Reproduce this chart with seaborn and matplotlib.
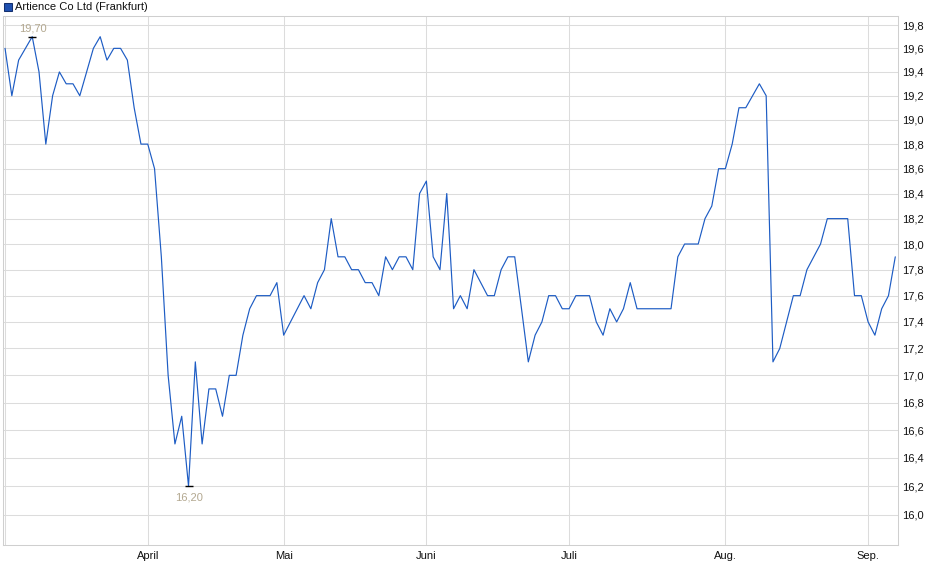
import numpy as np
import pandas as pd
import matplotlib
matplotlib.use("Agg")
import matplotlib.pyplot as plt
import seaborn as sns
from matplotlib.ticker import FixedLocator, FixedFormatter, NullLocator, NullFormatter
from matplotlib.patches import Rectangle

# ---------------- data ----------------
series_name = "Artience Co Ltd (Frankfurt)"

prices = [
    19.6, 19.2, 19.5, 19.6, 19.7, 19.4, 18.8, 19.2, 19.4, 19.3,
    19.3, 19.2, 19.4, 19.6, 19.7, 19.5, 19.6, 19.6, 19.5, 19.1,
    18.8, 18.8, 18.6, 17.9, 17.0, 16.5, 16.7, 16.2, 17.1, 16.5,
    16.9, 16.9, 16.7, 17.0, 17.0, 17.3, 17.5, 17.6, 17.6, 17.6,
    17.7, 17.3, 17.4, 17.5, 17.6, 17.5, 17.7, 17.8, 18.2, 17.9,
    17.9, 17.8, 17.8, 17.7, 17.7, 17.6, 17.9, 17.8, 17.9, 17.9,
    17.8, 18.4, 18.5, 17.9, 17.8, 18.4, 17.5, 17.6, 17.5, 17.8,
    17.7, 17.6, 17.6, 17.8, 17.9, 17.9, 17.5, 17.1, 17.3, 17.4,
    17.6, 17.6, 17.5, 17.5, 17.6, 17.6, 17.6, 17.4, 17.3, 17.5,
    17.4, 17.5, 17.7, 17.5, 17.5, 17.5, 17.5, 17.5, 17.5, 17.9,
    18.0, 18.0, 18.0, 18.2, 18.3, 18.6, 18.6, 18.8, 19.1, 19.1,
    19.2, 19.3, 19.2, 17.1, 17.2, 17.4, 17.6, 17.6, 17.8, 17.9,
    18.0, 18.2, 18.2, 18.2, 18.2, 17.6, 17.6, 17.4, 17.3, 17.5,
    17.6, 17.9,
]

month_start_idx = [0, 21, 41, 62, 83, 106, 127]
month_labels = ["", "April", "Mai", "Juni", "Juli", "Aug.", "Sep."]

y_ticks = [16.0, 16.2, 16.4, 16.6, 16.8, 17.0, 17.2, 17.4, 17.6, 17.8,
           18.0, 18.2, 18.4, 18.6, 18.8, 19.0, 19.2, 19.4, 19.6, 19.8]
y_tick_labels = [f"{v:.1f}".replace(".", ",") for v in y_ticks]

# ---------------- style ----------------
sns.set_theme(style="white")
plt.rcParams["font.family"] = ["Liberation Sans", "DejaVu Sans"]

W, H = 940, 579
fig = plt.figure(figsize=(W / 100, H / 100), dpi=100)
left, right, top, bottom = 3, 898, 16, 545
ax = fig.add_axes([left / W, 1 - bottom / H, (right - left) / W, (bottom - top) / H])

df = pd.DataFrame({"idx": np.arange(len(prices)), "price": prices})
line_color = "#1d5cc4"
sns.lineplot(data=df, x="idx", y="price", ax=ax, color=line_color, linewidth=0.85)

ax.set_yscale("log")
ax.set_ylim(15.79, 19.878)
ax.set_xlim(-0.3, 131.4)

grid_color = "#dcdcdc"
ax.yaxis.set_major_locator(FixedLocator(y_ticks))
ax.yaxis.set_major_formatter(FixedFormatter(y_tick_labels))
ax.yaxis.set_minor_locator(NullLocator())
ax.yaxis.set_minor_formatter(NullFormatter())
ax.yaxis.tick_right()
ax.tick_params(axis="y", length=0, pad=3, labelsize=8, labelcolor="#111111")

ax.xaxis.set_major_locator(FixedLocator(month_start_idx))
ax.xaxis.set_major_formatter(FixedFormatter(month_labels))
ax.tick_params(axis="x", length=2.5, width=0.75, color="#c8c8c8", pad=1.5,
               labelsize=8, labelcolor="#111111")

ax.grid(True, color=grid_color, linewidth=0.75)
ax.set_axisbelow(True)
for s in ax.spines.values():
    s.set_color("#cfcfcf")
    s.set_linewidth(0.75)
ax.set_xlabel("")
ax.set_ylabel("")

# ---------------- high / low annotations ----------------
arr = np.array(prices)
imax, imin = int(np.argmax(arr)), int(np.argmin(arr))
ann_color = "#b3a890"
for i, dy, va in [(imax, 8, "center"), (imin, -11, "center")]:
    ax.plot([i], [arr[i]], marker="_", color="black", markersize=6,
            markeredgewidth=1.0, zorder=5)
    ax.annotate(f"{arr[i]:.2f}".replace(".", ","), xy=(i, arr[i]),
                xytext=(0.5, dy), textcoords="offset pixels",
                ha="center", va=va, fontsize=8, color=ann_color)

# ---------------- legend ----------------
fig.patches.append(Rectangle((4 / W, 1 - 11 / H), 8 / W, 8 / H,
                             transform=fig.transFigure, facecolor="#1f50b0",
                             edgecolor="#14306e", linewidth=0.75))
fig.text(15 / W, 1 - 7 / H, series_name, ha="left", va="center",
         fontsize=8, color="#111111")

fig.savefig("out.png", dpi=100)
